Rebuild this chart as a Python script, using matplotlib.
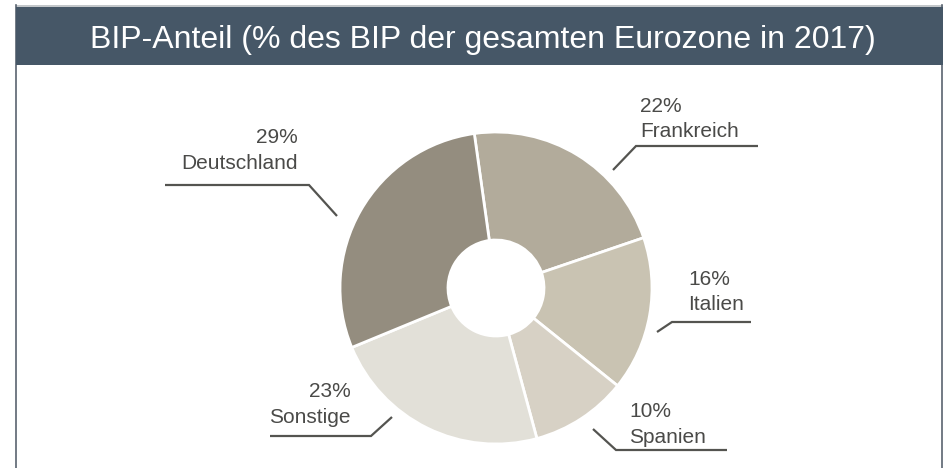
import matplotlib
matplotlib.use("Agg")
import matplotlib.pyplot as plt
from matplotlib.patches import Rectangle

plt.rcParams['font.family'] = ['Liberation Sans', 'DejaVu Sans']

# Data
countries = ["Frankreich", "Italien", "Spanien", "Sonstige", "Deutschland"]
shares = [22, 16, 10, 23, 29]
colors = ["#b2ab9b", "#c9c3b2", "#d7d1c5", "#e2e0d8", "#948d7f"]
title = "BIP-Anteil (% des BIP der gesamten Eurozone in 2017)"

W, H = 949, 468
fig = plt.figure(figsize=(W / 100, H / 100), dpi=100)
ax = fig.add_axes([0, 0, 1, 1])

def Y(py):
    return H - py

# donut
cx, cy, R, r = 496, 288, 156, 48
ax.pie(shares, colors=colors, startangle=98, counterclock=False,
       center=(cx, Y(cy)), radius=R,
       wedgeprops=dict(width=R - r, edgecolor="white", linewidth=2))

ax.set_xlim(0, W)
ax.set_ylim(0, H)
ax.set_aspect("auto")
ax.axis("off")

# frame and title bar
ax.plot([16, 943], [Y(5.5), Y(5.5)], color="#b8bcc0", lw=1.2, solid_capstyle="butt")
ax.plot([16.5, 16.5], [Y(5), 0], color="#5a6470", lw=1.2)
ax.plot([942.5, 942.5], [Y(5), 0], color="#5a6470", lw=1.2)
ax.add_patch(Rectangle((16, Y(65)), 927, 58, facecolor="#465767", edgecolor="none", zorder=3))
ax.text(483, Y(48), title, color="white", fontsize=23, ha="center", va="baseline", zorder=4)

# labels: (pct baseline, name baseline, text x, ha, leader points)
label_layout = {
    "Frankreich": (112, 137, 640, "left", [(613, 170), (636, 146), (758, 146)]),
    "Italien": (285, 310, 688, "left", [(657, 332), (672, 322), (751, 322)]),
    "Spanien": (417, 443, 629, "left", [(593, 429), (616, 450), (727, 450)]),
    "Sonstige": (397, 423, 351, "right", [(392, 417), (371, 436), (270, 436)]),
    "Deutschland": (143, 169, 298, "right", [(337, 216), (309, 185), (165, 185)]),
}
tc = "#4a4a48"
lc = "#545450"
for name, val in zip(countries, shares):
    yb1, yb2, tx, ha, pts = label_layout[name]
    ax.text(tx, Y(yb1), f"{val}%", fontsize=15, color=tc, ha=ha, va="baseline")
    ax.text(tx, Y(yb2), name, fontsize=15, color=tc, ha=ha, va="baseline")
    xs = [p[0] for p in pts]
    ys = [Y(p[1]) for p in pts]
    ax.plot(xs, ys, color=lc, lw=1.6, solid_capstyle="butt", solid_joinstyle="miter")

fig.savefig("out.png", dpi=100)
